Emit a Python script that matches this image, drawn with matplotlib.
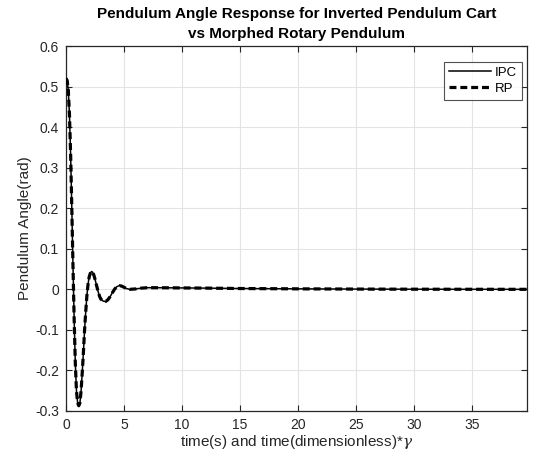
import matplotlib
matplotlib.use("Agg")
import matplotlib.pyplot as plt

plt.rcParams['font.family'] = ['Liberation Sans', 'DejaVu Sans']
plt.rcParams['mathtext.fontset'] = 'custom'
plt.rcParams['mathtext.it'] = 'DejaVu Serif:italic'
plt.rcParams['lines.scale_dashes'] = False

# pendulum angle (rad) over time
t = [0.0, 0.1, 0.2, 0.3, 0.4, 0.5, 0.6, 0.7, 0.8, 0.9, 1.0, 1.1, 1.2, 1.3,
     1.4, 1.5, 1.6, 1.7, 1.8, 1.9, 2.0, 2.1, 2.2, 2.3, 2.4, 2.5, 2.6, 2.7,
     2.8, 2.9, 3.0, 3.2, 3.4, 3.6, 3.8, 4.0, 4.2, 4.4, 4.6, 4.8, 5.0, 5.2,
     5.5, 6.0, 6.5, 7.0, 8.0, 10.0, 12.0, 15.0, 20.0, 25.0, 30.0, 35.0, 40.0]
ipc = [0.52, 0.515, 0.49, 0.43, 0.33, 0.20, 0.06, -0.07, -0.18, -0.25,
       -0.28, -0.287, -0.28, -0.25, -0.205, -0.155, -0.10, -0.055, -0.015,
       0.013, 0.031, 0.040, 0.044, 0.042, 0.035, 0.025, 0.013, 0.002, -0.009,
       -0.018, -0.024, -0.029, -0.030, -0.026, -0.018, -0.008, 0.001, 0.007,
       0.009, 0.008, 0.005, 0.002, 0.000, 0.001, 0.003, 0.004, 0.004, 0.0035,
       0.003, 0.002, 0.0012, 0.0006, 0.0003, 0.0001, 0.0]
rp = list(ipc)

xticks = [0, 5, 10, 15, 20, 25, 30, 35]
yticks = [-0.3, -0.2, -0.1, 0.0, 0.1, 0.2, 0.3, 0.4, 0.5, 0.6]
yticklabels = ['-0.3', '-0.2', '-0.1', '0', '0.1', '0.2', '0.3', '0.4', '0.5', '0.6']

fig = plt.figure(figsize=(5.37, 4.63), dpi=100)
ax = fig.add_axes([66/537, 1 - 411/463, (527 - 66)/537, (411 - 46)/463])

ax.plot(t, ipc, color='black', lw=1.1, label='IPC', zorder=3)
ax.plot(t, rp, color='black', lw=2.3, dashes=(5.0, 2.8), label='RP', zorder=4)

ax.set_xlim(0, 39.7)
ax.set_ylim(-0.3, 0.6)
ax.set_xticks(xticks)
ax.set_yticks(yticks)
ax.set_yticklabels(yticklabels)

ax.grid(True, color='#e3e3e3', lw=0.8)
ax.set_axisbelow(True)
for s in ax.spines.values():
    s.set_color('#262626')
    s.set_linewidth(0.9)
ax.tick_params(direction='in', length=4, width=0.8, colors='#262626',
               labelsize=10, top=True, right=True, pad=5)

ax.set_xlabel('time(s) and time(dimensionless)*$\\gamma$', fontsize=11, color='#262626', labelpad=1)
ax.set_ylabel('Pendulum Angle(rad)', fontsize=11, color='#262626', labelpad=2)
ax.set_title('Pendulum Angle Response for Inverted Pendulum Cart\nvs Morphed Rotary Pendulum',
             fontsize=11, fontweight='bold', color='black', pad=6, linespacing=1.55)

leg = ax.legend(loc='upper right', bbox_to_anchor=(0.989, 0.956), fontsize=9.5,
                frameon=True, fancybox=False, edgecolor='#262626',
                handlelength=3.2, borderpad=0.35, labelspacing=0.3,
                handletextpad=0.3, borderaxespad=0.0)
leg.get_frame().set_linewidth(0.8)

fig.savefig('out.png', dpi=100)
